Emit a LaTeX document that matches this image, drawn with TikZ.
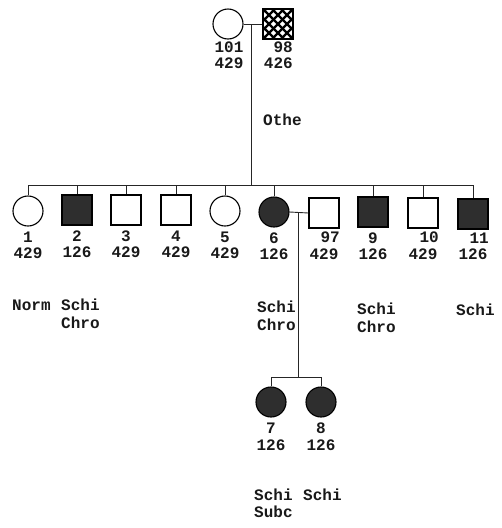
\documentclass[tikz,border=0pt]{standalone}
\usepackage{fontspec}
\setmonofont{Liberation Mono}
\begin{document}
\begin{tikzpicture}[x=1pt,y=-1pt,
  fem/.style={circle,draw=black,line width=1.1pt,minimum size=30pt,inner sep=0pt},
  mal/.style={rectangle,draw=black,line width=1.1pt,minimum size=30pt,inner sep=0pt},
  aff/.style={fill=black!82},
  lab/.style={font=\ttfamily\bfseries\fontsize{16}{16}\selectfont,inner sep=0pt,text=black!90},
  conn/.style={line width=0.9pt,black!85}]
\useasboundingbox (0,0) rectangle (502,528);
% generation I
\node[fem] (p101) at (228,24) {};
\node[mal] (p98) at (278,24) {};
\begin{scope}
\clip (p98.south west) rectangle (p98.north east);
\foreach \k in {-45,-36,...,45} {
  \draw[line width=2.4pt] (263+\k,9) -- (293+\k,39);
  \draw[line width=2.4pt] (263+\k,39) -- (293+\k,9);
}
\end{scope}
\node[mal,fill=none] at (278,24) {};
\node[lab] (t101) at (229,47) {101};
\node[lab] (v101) at (229,63) {429};
\node[lab,anchor=east] (t98) at (293,47) {98};
\node[lab,anchor=east] (v98) at (293,63) {426};
\node[lab,anchor=west] (othe) at (263,120) {Othe};
\coordinate (m1) at (251,24);
\coordinate (sib) at (251,185);
\draw[conn] (p101.east) -- (p98.west);
\draw[conn] (m1) -- (sib);
% generation II
\node[fem] (c1) at (28,211) {};
\node[mal,aff] (c2) at (77,210) {};
\node[mal] (c3) at (126,210) {};
\node[mal] (c4) at (176,210) {};
\node[fem] (c5) at (225,211) {};
\node[fem,aff] (c6) at (274,212) {};
\node[mal] (c97) at (324,213) {};
\node[mal,aff] (c9) at (373,212) {};
\node[mal] (c10) at (423,213) {};
\node[mal,aff] (c11) at (473,214) {};
\draw[conn] (c1.north |- sib) -- (c11.north |- sib);
\foreach \c in {c1,c2,c3,c4,c5,c6,c9,c10,c11} \draw[conn] (\c.north) -- (\c.north |- sib);
% labels gen II
\foreach \c/\i/\v in {c1/1/429,c2/2/126,c3/3/429,c4/4/429,c5/5/429,c6/6/126,c9/9/126} {
  \node[lab] (id\c) at ([yshift=-26pt]\c.center) {\i};
  \node[lab] (va\c) at ([yshift=-42pt]\c.center) {\v};
}
\node[lab,anchor=east] (idc97) at ([xshift=16pt,yshift=-24pt]c97.center) {97};
\node[lab] (vac97) at ([yshift=-41pt]c97.center) {429};
\node[lab,anchor=east] (idc10) at ([xshift=16pt,yshift=-24pt]c10.center) {10};
\node[lab] (vac10) at ([yshift=-41pt]c10.center) {429};
\node[lab,anchor=east] (idc11) at ([xshift=16pt,yshift=-24pt]c11.center) {11};
\node[lab] (vac11) at ([yshift=-40pt]c11.center) {126};
% marriage 6 x 97
\coordinate (m2) at (298,213);
\coordinate (sib2) at (298,377);
\draw[conn] (c6.east) -- (c97.west);
\draw[conn] (m2) -- (sib2);
% generation III
\node[fem,aff] (c7) at (271,402) {};
\node[fem,aff] (c8) at (321,402) {};
\draw[conn] (c7.north |- sib2) -- (c8.north |- sib2);
\draw[conn] (c7.north) -- (c7.north |- sib2);
\draw[conn] (c8.north) -- (c8.north |- sib2);
\node[lab] (idc7) at (271,428) {7};
\node[lab] (vac7) at (271,445) {126};
\node[lab] (idc8) at (321,428) {8};
\node[lab] (vac8) at (321,445) {126};
% annotations
\node[lab,anchor=west] (a1) at (12,305) {Norm};
\node[lab,anchor=west] (a2) at (61,305) {Schi};
\node[lab,anchor=west] (a2b) at (61,323) {Chro};
\node[lab,anchor=west] (a6) at (257,307) {Schi};
\node[lab,anchor=west] (a6b) at (257,325) {Chro};
\node[lab,anchor=west] (a9) at (357,309) {Schi};
\node[lab,anchor=west] (a9b) at (357,327) {Chro};
\node[lab,anchor=west] (a11) at (456,310) {Schi};
\node[lab,anchor=west] (a7) at (254,495) {Schi};
\node[lab,anchor=west] (a7b) at (254,512) {Subc};
\node[lab,anchor=west] (a8) at (303,495) {Schi};
\end{tikzpicture}
\end{document}
